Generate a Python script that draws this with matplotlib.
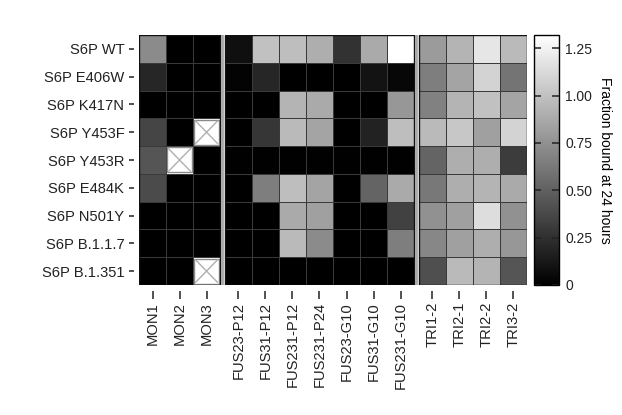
import numpy as np
import matplotlib as mpl
import matplotlib.pyplot as plt
from matplotlib.patches import Rectangle

mpl.rcParams['font.family'] = ['Liberation Sans', 'DejaVu Sans']
mpl.rcParams['font.size'] = 10
mpl.rcParams['text.color'] = '#222222'
mpl.rcParams['xtick.color'] = '#222222'
mpl.rcParams['ytick.color'] = '#222222'

rows = ['S6P WT', 'S6P E406W', 'S6P K417N', 'S6P Y453F', 'S6P Y453R',
        'S6P E484K', 'S6P N501Y', 'S6P B.1.1.7', 'S6P B.1.351']
mon_cols = ['MON1', 'MON2', 'MON3']
fus_cols = ['FUS23-P12', 'FUS31-P12', 'FUS231-P12', 'FUS231-P24',
            'FUS23-G10', 'FUS31-G10', 'FUS231-G10']
tri_cols = ['TRI1-2', 'TRI2-1', 'TRI2-2', 'TRI3-2']

nan = np.nan
# fraction bound at 24 hours (nan = not measured)
mon = np.array([
    [0.72, 0.0, 0.0],
    [0.20, 0.0, 0.0],
    [0.0, 0.0, 0.0],
    [0.36, 0.0, nan],
    [0.44, nan, 0.0],
    [0.39, 0.0, 0.0],
    [0.0, 0.0, 0.0],
    [0.0, 0.0, 0.0],
    [0.0, 0.0, nan],
])
fus = np.array([
    [0.08, 1.00, 0.98, 0.90, 0.26, 0.88, 1.32],
    [0.02, 0.20, 0.0, 0.0, 0.0, 0.10, 0.04],
    [0.0, 0.0, 0.93, 0.88, 0.0, 0.0, 0.78],
    [0.0, 0.28, 0.96, 0.85, 0.0, 0.18, 0.98],
    [0.01, 0.01, 0.01, 0.01, 0.01, 0.01, 0.01],
    [0.0, 0.65, 0.98, 0.85, 0.0, 0.52, 0.88],
    [0.0, 0.0, 0.88, 0.83, 0.0, 0.0, 0.34],
    [0.0, 0.0, 0.96, 0.72, 0.0, 0.0, 0.65],
    [0.0, 0.0, 0.0, 0.0, 0.0, 0.0, 0.0],
])
tri = np.array([
    [0.80, 0.93, 1.19, 0.96],
    [0.65, 0.85, 1.09, 0.60],
    [0.67, 0.93, 1.00, 0.85],
    [0.96, 1.03, 0.83, 1.09],
    [0.52, 0.90, 0.90, 0.31],
    [0.62, 0.90, 0.93, 0.88],
    [0.75, 0.83, 1.14, 0.75],
    [0.70, 0.83, 0.90, 0.78],
    [0.41, 0.96, 0.93, 0.44],
])

vmax = 1.32
gap = 0.18
cmap = mpl.colormaps['gray']

fig = plt.figure(figsize=(6.22, 4.15), dpi=100)
ax = fig.add_axes([139/622, 130/415, 388/622, 250/415])
# offset ticks from the map, spines hidden
ax.spines['left'].set_position(('outward', 3.6))
ax.spines['bottom'].set_position(('outward', 4.3))
for s in ax.spines.values():
    s.set_visible(False)

x0 = 0
ticks, labels, gaps = [], [], []
for block, cols in [(mon, mon_cols), (fus, fus_cols), (tri, tri_cols)]:
    n = len(cols)
    xe = np.arange(n + 1) + x0
    ye = np.arange(len(rows) + 1)
    ax.pcolormesh(xe, ye, np.ma.masked_invalid(block), cmap=cmap, vmin=0, vmax=vmax,
                  edgecolors='#3a3a3a', linewidth=0.7)
    for i, j in zip(*np.where(np.isnan(block))):
        d = 0.05
        ax.add_patch(Rectangle((x0 + j + d, i + d), 1 - 2*d, 1 - 2*d, fc='white', ec='#8a8a8a', lw=1))
        ax.plot([x0 + j + 2*d, x0 + j + 1 - 2*d], [i + 2*d, i + 1 - 2*d], color='#b0b0b0', lw=1)
        ax.plot([x0 + j + 2*d, x0 + j + 1 - 2*d], [i + 1 - 2*d, i + 2*d], color='#b0b0b0', lw=1)
    ax.add_patch(Rectangle((x0, 0), n, len(rows), fill=False, ec='#111111', lw=1))
    ticks += list(x0 + np.arange(n) + 0.5)
    labels += cols
    x0 += n + gap
    gaps.append(x0 - gap/2)

for g in gaps[:-1]:
    ax.axvline(g, color='#a8a8a8', lw=2)

ax.set_xlim(0, x0 - gap)
ax.set_ylim(len(rows), 0)
ax.set_xticks(ticks)
ax.set_xticklabels(labels, rotation=90, fontsize=10.6)
ax.set_yticks(np.arange(len(rows)) + 0.5)
ax.set_yticklabels(rows, fontsize=10.6)
ax.tick_params(axis='y', length=3.6, width=1.1, pad=3.4)
ax.tick_params(axis='x', length=5.8, width=1.1, pad=2.2)

cax = fig.add_axes([534/622, 130/415, 25/622, 250/415])
cb = fig.colorbar(mpl.cm.ScalarMappable(norm=plt.Normalize(0, vmax), cmap=cmap), cax=cax)
cb.set_ticks([0, 0.25, 0.5, 0.75, 1.0, 1.25])
cb.set_ticklabels(['0', '0.25', '0.50', '0.75', '1.00', '1.25'])
cb.outline.set_linewidth(1)
cax.tick_params(direction='in', left=True, right=True, length=5, width=1.1, pad=4.5)
cb.set_label('Fraction bound at 24 hours', rotation=270, labelpad=14)

fig.savefig('out.png', dpi=100)
